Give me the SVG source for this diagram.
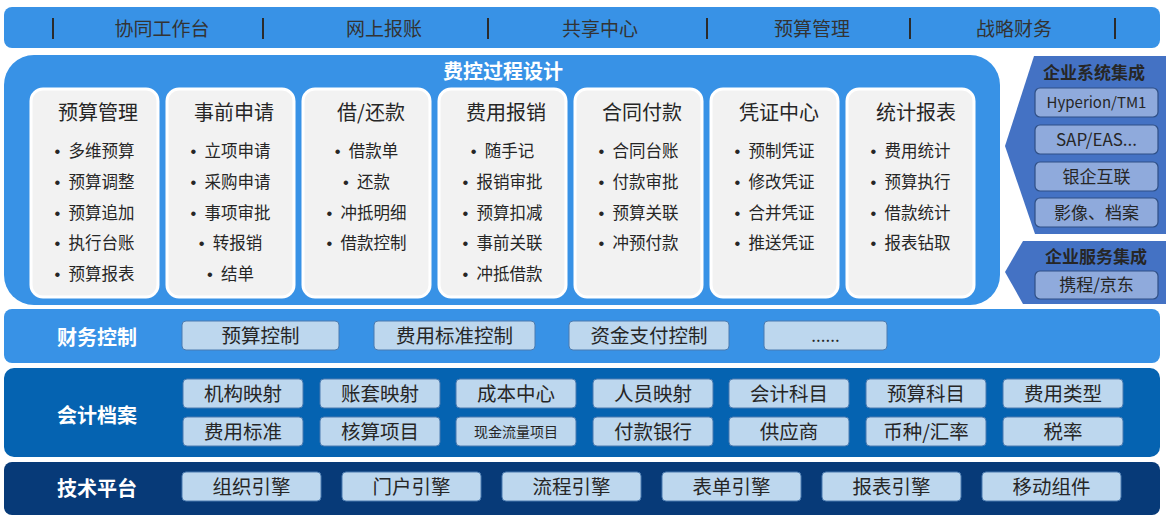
<svg xmlns="http://www.w3.org/2000/svg" width="1166" height="521" viewBox="0 0 1166 521">
<style>
text{font-family:"Noto Sans CJK SC","Noto Sans",sans-serif;}
.band{fill:#3892E6;}
.sep{stroke:#2b2b2b;stroke-width:2;}
.top{font-size:19px;fill:#333;text-anchor:middle;}
.ttl{font-size:20px;font-weight:bold;fill:#fff;text-anchor:middle;}
.card{fill:#F2F2F2;stroke:#fff;stroke-width:3;}
.ctitle{font-size:20px;fill:#262626;text-anchor:middle;}
.item{font-size:16.5px;fill:#262626;text-anchor:middle;}
.bul{font-family:"Liberation Sans",sans-serif;}
.lbl{font-size:20px;font-weight:bold;fill:#fff;text-anchor:middle;}
.box{fill:#BDD7EE;stroke:#4A7AB0;stroke-width:1;}
.bt{font-size:19.5px;fill:#262626;text-anchor:middle;}
.side{fill:#4472C4;}
.sbox{fill:#8FAADC;stroke:#2F4F85;stroke-width:1.2;}
.st{font-size:17px;fill:#262626;text-anchor:middle;}
.sttl{font-size:17px;font-weight:bold;fill:#262626;text-anchor:middle;}
</style>

<g id="top-bar">
<rect class="band" x="4" y="7" width="1156" height="41" rx="8"/>
<line class="sep" x1="53" y1="18" x2="53" y2="39"/>
<line class="sep" x1="263" y1="18" x2="263" y2="39"/>
<line class="sep" x1="488" y1="18" x2="488" y2="39"/>
<line class="sep" x1="707" y1="18" x2="707" y2="39"/>
<line class="sep" x1="910" y1="18" x2="910" y2="39"/>
<line class="sep" x1="1115" y1="18" x2="1115" y2="39"/>
<text class="top" x="162" y="36">协同工作台</text>
<text class="top" x="384" y="36">网上报账</text>
<text class="top" x="600" y="36">共享中心</text>
<text class="top" x="812" y="36">预算管理</text>
<text class="top" x="1014" y="36">战略财务</text>
</g>

<g id="process-design">
<rect class="band" x="4" y="55" width="996" height="250" rx="30"/>
<text class="ttl" x="503" y="79">费控过程设计</text>
</g>

<g id="card-budget">
<rect class="card" x="31" y="89" width="127" height="208" rx="12"/>
<text class="ctitle" x="98" y="120">预算管理</text>
<text class="item" x="94.5" y="157"><tspan class="bul">•</tspan><tspan dx="8">多维预算</tspan></text>
<text class="item" x="94.5" y="188"><tspan class="bul">•</tspan><tspan dx="8">预算调整</tspan></text>
<text class="item" x="94.5" y="219"><tspan class="bul">•</tspan><tspan dx="8">预算追加</tspan></text>
<text class="item" x="94.5" y="249"><tspan class="bul">•</tspan><tspan dx="8">执行台账</tspan></text>
<text class="item" x="94.5" y="280"><tspan class="bul">•</tspan><tspan dx="8">预算报表</tspan></text>
</g>

<g id="card-apply">
<rect class="card" x="167" y="89" width="127" height="208" rx="12"/>
<text class="ctitle" x="234" y="120">事前申请</text>
<text class="item" x="230.5" y="157"><tspan class="bul">•</tspan><tspan dx="8">立项申请</tspan></text>
<text class="item" x="230.5" y="188"><tspan class="bul">•</tspan><tspan dx="8">采购申请</tspan></text>
<text class="item" x="230.5" y="219"><tspan class="bul">•</tspan><tspan dx="8">事项审批</tspan></text>
<text class="item" x="230.5" y="249"><tspan class="bul">•</tspan><tspan dx="8">转报销</tspan></text>
<text class="item" x="230.5" y="280"><tspan class="bul">•</tspan><tspan dx="8">结单</tspan></text>
</g>

<g id="card-loan">
<rect class="card" x="303" y="89" width="127" height="208" rx="12"/>
<text class="ctitle" x="371" y="120">借/还款</text>
<text class="item" x="366.5" y="157"><tspan class="bul">•</tspan><tspan dx="8">借款单</tspan></text>
<text class="item" x="366.5" y="188"><tspan class="bul">•</tspan><tspan dx="8">还款</tspan></text>
<text class="item" x="366.5" y="219"><tspan class="bul">•</tspan><tspan dx="8">冲抵明细</tspan></text>
<text class="item" x="366.5" y="249"><tspan class="bul">•</tspan><tspan dx="8">借款控制</tspan></text>
</g>

<g id="card-expense">
<rect class="card" x="439" y="89" width="127" height="208" rx="12"/>
<text class="ctitle" x="506" y="120">费用报销</text>
<text class="item" x="502.5" y="157"><tspan class="bul">•</tspan><tspan dx="8">随手记</tspan></text>
<text class="item" x="502.5" y="188"><tspan class="bul">•</tspan><tspan dx="8">报销审批</tspan></text>
<text class="item" x="502.5" y="219"><tspan class="bul">•</tspan><tspan dx="8">预算扣减</tspan></text>
<text class="item" x="502.5" y="249"><tspan class="bul">•</tspan><tspan dx="8">事前关联</tspan></text>
<text class="item" x="502.5" y="280"><tspan class="bul">•</tspan><tspan dx="8">冲抵借款</tspan></text>
</g>

<g id="card-contract">
<rect class="card" x="575" y="89" width="127" height="208" rx="12"/>
<text class="ctitle" x="642" y="120">合同付款</text>
<text class="item" x="638.5" y="157"><tspan class="bul">•</tspan><tspan dx="8">合同台账</tspan></text>
<text class="item" x="638.5" y="188"><tspan class="bul">•</tspan><tspan dx="8">付款审批</tspan></text>
<text class="item" x="638.5" y="219"><tspan class="bul">•</tspan><tspan dx="8">预算关联</tspan></text>
<text class="item" x="638.5" y="249"><tspan class="bul">•</tspan><tspan dx="8">冲预付款</tspan></text>
</g>

<g id="card-voucher">
<rect class="card" x="711" y="89" width="127" height="208" rx="12"/>
<text class="ctitle" x="779" y="120">凭证中心</text>
<text class="item" x="774.5" y="157"><tspan class="bul">•</tspan><tspan dx="8">预制凭证</tspan></text>
<text class="item" x="774.5" y="188"><tspan class="bul">•</tspan><tspan dx="8">修改凭证</tspan></text>
<text class="item" x="774.5" y="219"><tspan class="bul">•</tspan><tspan dx="8">合并凭证</tspan></text>
<text class="item" x="774.5" y="249"><tspan class="bul">•</tspan><tspan dx="8">推送凭证</tspan></text>
</g>

<g id="card-report">
<rect class="card" x="847" y="89" width="127" height="208" rx="12"/>
<text class="ctitle" x="916" y="120">统计报表</text>
<text class="item" x="910.5" y="157"><tspan class="bul">•</tspan><tspan dx="8">费用统计</tspan></text>
<text class="item" x="910.5" y="188"><tspan class="bul">•</tspan><tspan dx="8">预算执行</tspan></text>
<text class="item" x="910.5" y="219"><tspan class="bul">•</tspan><tspan dx="8">借款统计</tspan></text>
<text class="item" x="910.5" y="249"><tspan class="bul">•</tspan><tspan dx="8">报表钻取</tspan></text>
</g>

<g id="enterprise-system-integration">
<polygon class="side" points="1034,56 1166,56 1166,234 1035,234 1005,146"/>
<text class="sttl" x="1094" y="79">企业系统集成</text>
<rect class="sbox" x="1035" y="88" width="123" height="29" rx="5"/>
<text class="st" x="1096.5" y="107.5" style="font-size:15px">Hyperion/TM1</text>
<rect class="sbox" x="1035" y="125" width="123" height="29" rx="5"/>
<text class="st" x="1096.5" y="145.5">SAP/EAS...</text>
<rect class="sbox" x="1035" y="162" width="123" height="29" rx="5"/>
<text class="st" x="1096.5" y="182.5">银企互联</text>
<rect class="sbox" x="1035" y="198" width="123" height="29" rx="5"/>
<text class="st" x="1096.5" y="218.5">影像、档案</text>
</g>

<g id="enterprise-service-integration">
<polygon class="side" points="1023,241 1166,241 1166,304 1023,304 1005,272"/>
<text class="sttl" x="1096" y="263.4">企业服务集成</text>
<rect class="sbox" x="1035" y="271" width="123" height="28" rx="5"/>
<text class="st" x="1096.5" y="291.4">携程/京东</text>
</g>

<g id="finance-control">
<rect class="band" x="4" y="309" width="1156" height="54" rx="8"/>
<text class="lbl" x="97" y="344.5">财务控制</text>
<rect class="box" x="182" y="321" width="157" height="29" rx="4"/>
<text class="bt" x="260.5" y="342.8">预算控制</text>
<rect class="box" x="374" y="321" width="161" height="29" rx="4"/>
<text class="bt" x="454.5" y="342.8">费用标准控制</text>
<rect class="box" x="569" y="321" width="160" height="29" rx="4"/>
<text class="bt" x="649" y="342.8">资金支付控制</text>
<rect class="box" x="764" y="321" width="123" height="29" rx="4"/>
<text class="bt" x="825.5" y="342" style="font-size:17px">......</text>
</g>

<g id="accounting-archive">
<rect x="4" y="368" width="1156" height="89" rx="10" fill="#0563B1"/>
<text class="lbl" x="97" y="422.5">会计档案</text>
<rect class="box" x="183" y="379" width="120" height="29" rx="4"/>
<text class="bt" x="243" y="400.8">机构映射</text>
<rect class="box" x="320" y="379" width="120" height="29" rx="4"/>
<text class="bt" x="380" y="400.8">账套映射</text>
<rect class="box" x="456" y="379" width="120" height="29" rx="4"/>
<text class="bt" x="516" y="400.8">成本中心</text>
<rect class="box" x="593" y="379" width="120" height="29" rx="4"/>
<text class="bt" x="653" y="400.8">人员映射</text>
<rect class="box" x="729" y="379" width="120" height="29" rx="4"/>
<text class="bt" x="789" y="400.8">会计科目</text>
<rect class="box" x="866" y="379" width="120" height="29" rx="4"/>
<text class="bt" x="926" y="400.8">预算科目</text>
<rect class="box" x="1003" y="379" width="120" height="29" rx="4"/>
<text class="bt" x="1063" y="400.8">费用类型</text>
<rect class="box" x="183" y="417" width="120" height="29" rx="4"/>
<text class="bt" x="243" y="438.8">费用标准</text>
<rect class="box" x="320" y="417" width="120" height="29" rx="4"/>
<text class="bt" x="380" y="438.8">核算项目</text>
<rect class="box" x="456" y="417" width="120" height="29" rx="4"/>
<text class="bt" x="516" y="436.8" style="font-size:14px">现金流量项目</text>
<rect class="box" x="593" y="417" width="120" height="29" rx="4"/>
<text class="bt" x="653" y="438.8">付款银行</text>
<rect class="box" x="729" y="417" width="120" height="29" rx="4"/>
<text class="bt" x="789" y="438.8">供应商</text>
<rect class="box" x="866" y="417" width="120" height="29" rx="4"/>
<text class="bt" x="926" y="438.8">币种/汇率</text>
<rect class="box" x="1003" y="417" width="120" height="29" rx="4"/>
<text class="bt" x="1063" y="438.8">税率</text>
</g>

<g id="tech-platform">
<rect x="4" y="462" width="1156" height="53" rx="8" fill="#073A78"/>
<text class="lbl" x="97" y="495.5">技术平台</text>
<rect class="box" x="182" y="472" width="139" height="29" rx="4"/>
<text class="bt" x="251.5" y="493.8">组织引擎</text>
<rect class="box" x="342" y="472" width="139" height="29" rx="4"/>
<text class="bt" x="411.5" y="493.8">门户引擎</text>
<rect class="box" x="502" y="472" width="139" height="29" rx="4"/>
<text class="bt" x="571.5" y="493.8">流程引擎</text>
<rect class="box" x="662" y="472" width="139" height="29" rx="4"/>
<text class="bt" x="731.5" y="493.8">表单引擎</text>
<rect class="box" x="822" y="472" width="139" height="29" rx="4"/>
<text class="bt" x="891.5" y="493.8">报表引擎</text>
<rect class="box" x="982" y="472" width="139" height="29" rx="4"/>
<text class="bt" x="1051.5" y="493.8">移动组件</text>
</g>

<g id="connectors"/>
</svg>
